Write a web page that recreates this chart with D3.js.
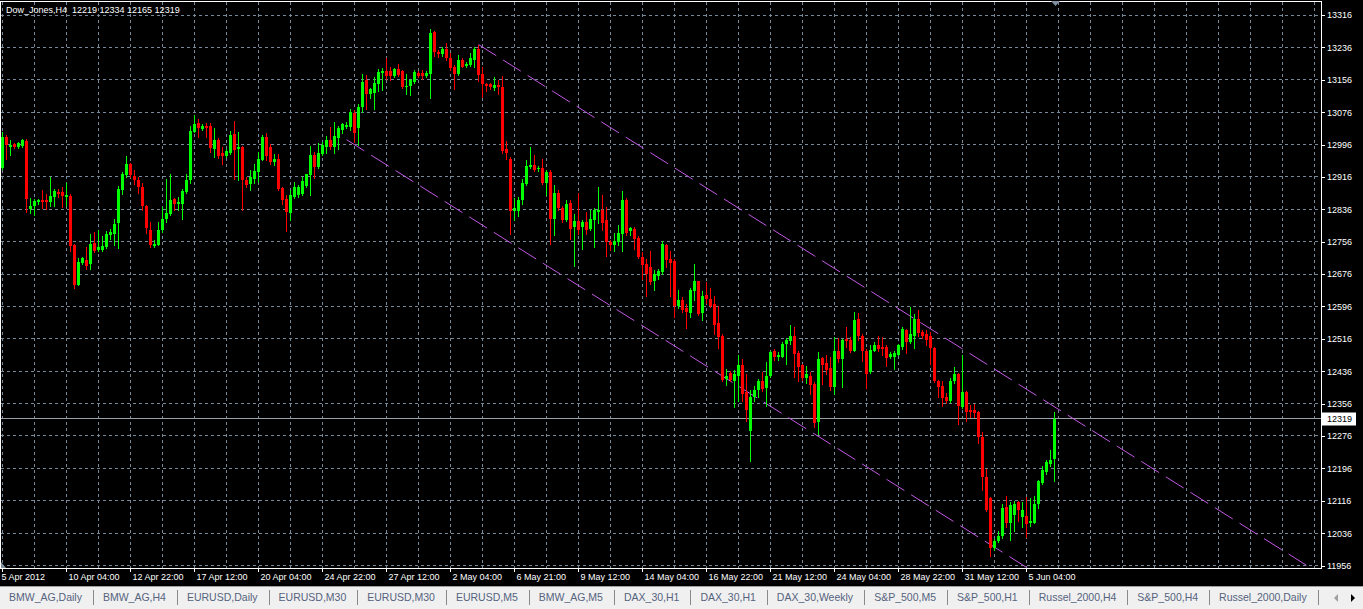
<!DOCTYPE html>
<html><head><meta charset="utf-8">
<script src="https://cdn.jsdelivr.net/npm/d3@7"></script>
<style>
html,body{margin:0;padding:0;background:#000;overflow:hidden}
text{font-family:"Liberation Sans",Arial,sans-serif}
</style></head>
<body>
<script>
// ---- data (Dow_Jones, H4) ----
const symbol = "Dow_Jones";
const timeframe = "H4";
const open = [12937,13014,12991,12997,12990,12992,13004,12836,12844,12853,12858,12858,12853,12866,12878,12878,12866,12868,12747,12650,12704,12711,12702,12753,12736,12736,12744,12772,12776,12801,12883,12920,12947,12918,12908,12890,12843,12784,12745,12749,12784,12811,12825,12861,12848,12848,12879,12908,13027,13048,13034,13042,13041,12986,13008,12975,12968,12974,13021,12986,12990,12908,12898,12912,12928,12959,13015,12989,12953,12960,12889,12861,12827,12866,12871,12873,12893,12920,12971,12941,12972,12990,13008,12990,13013,13033,13040,13040,13074,13037,13088,13155,13120,13124,13145,13172,13178,13178,13165,13182,13178,13137,13140,13151,13173,13172,13165,13170,13275,13225,13219,13233,13209,13188,13170,13206,13190,13192,13206,13233,13170,13145,13145,13135,13143,13137,12986,12961,12832,12832,12858,12898,12941,12945,12935,12938,12900,12928,12813,12876,12840,12809,12851,12792,12807,12792,12805,12788,12809,12829,12835,12809,12755,12749,12755,12776,12858,12782,12788,12766,12718,12702,12693,12659,12670,12681,12747,12714,12708,12598,12612,12592,12579,12635,12659,12579,12625,12615,12601,12555,12522,12417,12431,12413,12425,12452,12384,12289,12372,12390,12413,12395,12423,12485,12472,12472,12502,12510,12524,12480,12452,12420,12425,12405,12310,12469,12456,12444,12396,12485,12467,12516,12514,12487,12565,12524,12485,12433,12487,12500,12495,12495,12470,12472,12477,12497,12538,12508,12524,12565,12532,12527,12522,12494,12413,12400,12372,12362,12411,12429,12347,12384,12339,12339,12334,12274,12175,12123,12000,12017,12029,12101,12062,12081,12112,12076,12079,12060,12062,12109,12159,12186,12207,12219];
const high = [13026,13019,13007,13000,13002,13009,13009,12863,12861,12862,12883,12875,12916,12887,12887,12890,12900,12873,12751,12716,12718,12743,12774,12780,12784,12769,12782,12788,12813,12894,12928,12967,12951,12932,12916,12900,12846,12805,12759,12805,12842,12912,12924,12865,12866,12887,12924,13041,13068,13058,13046,13048,13048,13036,13012,12990,12984,13029,13054,13027,12992,12916,12932,12949,12978,13019,13025,12997,12972,12972,12891,12871,12883,12904,12895,12916,12924,12992,12978,13000,13002,13017,13040,13052,13041,13049,13051,13085,13081,13096,13170,13167,13135,13162,13182,13184,13210,13188,13184,13195,13180,13170,13158,13180,13178,13180,13178,13281,13277,13229,13238,13248,13221,13192,13217,13209,13200,13223,13238,13243,13188,13148,13148,13162,13155,13165,13005,12964,12865,12866,12912,12959,12989,12970,12942,12961,12934,12934,12895,12883,12843,12858,12860,12825,12876,12810,12829,12834,12838,12890,12871,12842,12759,12777,12796,12881,12865,12792,12792,12769,12730,12714,12733,12685,12689,12757,12751,12733,12712,12637,12619,12601,12642,12702,12660,12635,12656,12642,12623,12596,12527,12442,12436,12439,12477,12467,12428,12390,12400,12417,12433,12458,12487,12491,12483,12508,12518,12549,12546,12485,12454,12450,12433,12409,12483,12472,12477,12470,12520,12518,12516,12545,12520,12582,12579,12528,12491,12500,12508,12522,12520,12500,12483,12485,12504,12545,12541,12594,12578,12586,12537,12538,12532,12495,12415,12411,12381,12418,12446,12431,12475,12388,12353,12355,12337,12285,12194,12126,12021,12042,12108,12128,12112,12116,12116,12114,12124,12123,12128,12167,12203,12217,12241,12334];
const low = [12935,12960,12970,12987,12987,12989,12829,12826,12821,12848,12838,12836,12844,12843,12866,12842,12843,12733,12642,12648,12702,12689,12689,12730,12733,12733,12741,12762,12749,12741,12875,12916,12916,12898,12876,12834,12777,12744,12744,12747,12780,12805,12821,12835,12835,12813,12876,12901,13026,13015,13031,13015,12978,12965,12963,12949,12965,12972,12910,12908,12835,12890,12883,12900,12903,12957,12959,12949,12945,12883,12848,12782,12809,12865,12866,12871,12891,12871,12914,12937,12970,12974,12984,12974,12986,13025,13036,13031,13002,12994,13077,13085,13110,13083,13129,13130,13159,13155,13162,13165,13135,13122,13118,13147,13162,13159,13162,13110,13214,13213,13214,13205,13180,13132,13167,13187,13187,13190,13188,13153,13114,13129,13132,13130,13120,12974,12961,12776,12809,12819,12850,12895,12937,12931,12931,12898,12871,12751,12772,12834,12805,12807,12763,12697,12776,12739,12776,12784,12744,12801,12784,12720,12735,12733,12747,12733,12772,12772,12739,12716,12665,12623,12652,12637,12665,12677,12693,12623,12570,12593,12582,12543,12571,12611,12574,12563,12604,12594,12528,12494,12413,12403,12413,12347,12362,12362,12312,12215,12363,12372,12388,12351,12421,12464,12464,12470,12454,12504,12421,12413,12415,12406,12380,12297,12282,12405,12428,12390,12380,12458,12396,12497,12483,12485,12512,12461,12395,12431,12485,12485,12477,12450,12469,12442,12475,12491,12480,12505,12494,12524,12518,12500,12454,12409,12373,12351,12357,12359,12406,12306,12345,12312,12322,12324,12258,12142,12091,11980,11994,12013,12025,12052,12019,12040,12066,12050,12027,12054,12060,12099,12157,12182,12203,12165];
const close = [13014,12994,12994,12989,12999,13007,12861,12843,12856,12860,12853,12853,12869,12881,12875,12869,12871,12745,12650,12706,12715,12697,12751,12733,12743,12745,12776,12780,12799,12885,12924,12947,12920,12908,12890,12844,12790,12747,12751,12786,12811,12828,12858,12848,12853,12881,12909,13029,13046,13036,13042,13037,12988,13007,12968,12968,12980,13019,12982,12989,12908,12895,12916,12931,12961,13015,12967,12953,12960,12885,12860,12829,12871,12891,12890,12906,12923,12970,12941,12975,12994,13007,12990,13017,13036,13046,13044,13077,13025,13088,13151,13120,13132,13148,13176,13178,13165,13165,13182,13167,13137,13141,13155,13176,13165,13165,13173,13271,13225,13219,13231,13209,13184,13170,13206,13188,13196,13209,13231,13167,13145,13140,13137,13143,13137,12980,12974,12832,12838,12860,12901,12942,12945,12932,12937,12900,12928,12813,12876,12838,12809,12848,12788,12807,12784,12805,12786,12811,12835,12835,12802,12755,12747,12757,12777,12858,12778,12790,12763,12718,12699,12675,12656,12675,12683,12751,12710,12703,12598,12613,12588,12582,12637,12659,12578,12621,12615,12598,12551,12520,12415,12425,12415,12428,12452,12380,12340,12373,12390,12413,12392,12423,12483,12472,12475,12504,12514,12524,12479,12446,12420,12429,12403,12307,12467,12452,12439,12396,12485,12467,12512,12510,12487,12563,12524,12485,12428,12489,12500,12491,12491,12469,12479,12480,12500,12541,12508,12528,12565,12530,12522,12514,12494,12411,12398,12370,12362,12411,12428,12349,12384,12334,12334,12332,12273,12174,12093,12000,12017,12029,12099,12062,12106,12108,12093,12093,12058,12066,12109,12164,12192,12211,12217,12319];
const yTickLabels = ["13316","13236","13156","13076","12996","12916","12836","12756","12676","12596","12516","12436","12356","12276","12196","12116","12036","11956"];
const xTickLabels = ["5 Apr 2012","10 Apr 04:00","12 Apr 22:00","17 Apr 12:00","20 Apr 04:00","24 Apr 22:00","27 Apr 12:00","2 May 04:00","6 May 21:00","9 May 12:00","14 May 04:00","16 May 22:00","21 May 12:00","24 May 04:00","28 May 22:00","31 May 12:00","5 Jun 04:00"];
const xTickBars = [0,16,32,48,64,80,96,112,128,144,160,176,192,208,224,240,256];
const channelUpper = [[119,13243],[263,12348]];
const channelLower = [[86,13008],[263,11908]];
const tabs = ["BMW_AG,Daily","BMW_AG,H4","EURUSD,Daily","EURUSD,M30","EURUSD,M30","EURUSD,M5","BMW_AG,M5","DAX_30,H1","DAX_30,H1","DAX_30,Weekly","S&P_500,M5","S&P_500,H1","Russel_2000,H4","S&P_500,H4","Russel_2000,Daily"];

// ---- layout ----
const W = 1363, H = 609;
const plotL = 0.5, plotT = 1.5, plotR = 1321.5, plotB = 568.5;
const n = close.length;
const x = d3.scaleLinear().domain([0, n - 1]).range([2, 2 + 4 * (n - 1)]);
const y = d3.scaleLinear().domain([11956, 13316]).range([565.5, 15]);
const lastBarIndexVisible = x.invert(plotR);

const svg = d3.select("body").append("svg").attr("width", W).attr("height", H)
  .style("display", "block");
svg.append("rect").attr("width", W).attr("height", H).attr("fill", "#000");

svg.append("defs").append("clipPath").attr("id", "plotclip")
  .append("rect").attr("x", 1).attr("y", 2).attr("width", 1320).attr("height", 566);

const grid = svg.append("g").attr("shape-rendering", "crispEdges")
  .attr("stroke", "#778899").attr("stroke-dasharray", "3,3").attr("fill", "none");
const yVals = yTickLabels.map(Number);
grid.selectAll("line.h").data(yVals).join("line").attr("class", "h")
  .attr("x1", 1).attr("x2", 1321)
  .attr("y1", d => Math.floor(y(d)) + 0.5).attr("y2", d => Math.floor(y(d)) + 0.5);
const vIdx = d3.range(0, Math.floor(lastBarIndexVisible) + 1, 8);
grid.selectAll("line.v").data(vIdx).join("line").attr("class", "v")
  .attr("x1", d => x(d) + 0.5).attr("x2", d => x(d) + 0.5)
  .attr("y1", 2).attr("y2", 568);

// bid line
const bid = close[n - 1];
const yb = Math.floor(y(bid)) + 0.5;
svg.append("line").attr("x1", 1).attr("x2", 1321).attr("y1", yb).attr("y2", yb)
  .attr("stroke", "#9aa0a8").attr("shape-rendering", "crispEdges");

// channel lines
function ray(pts) {
  const [a, b] = pts;
  const slope = (b[1] - a[1]) / (b[0] - a[0]);
  const endI = lastBarIndexVisible + 2;
  return [[x(a[0]) + 0.5, y(a[1])], [x(endI) + 0.5, y(a[1] + slope * (endI - a[0]))]];
}
const chG = svg.append("g").attr("clip-path", "url(#plotclip)");
[channelUpper, channelLower].forEach(c => {
  chG.append("path").attr("d", d3.line()(ray(c)))
    .attr("stroke", "#c458e6").attr("stroke-width", 1).attr("fill", "none")
    .attr("stroke-dasharray", "21,8");
});

// candles
const cg = svg.append("g").attr("shape-rendering", "crispEdges").attr("clip-path", "url(#plotclip)");
const bars = d3.range(n).map(i => ({i, o: open[i], h: high[i], l: low[i], c: close[i]}));
const col = d => d.c >= d.o ? "#00ff00" : "#ff0000";
cg.selectAll("line.w").data(bars).join("line").attr("class", "w")
  .attr("x1", d => x(d.i) + 0.5).attr("x2", d => x(d.i) + 0.5)
  .attr("y1", d => Math.round(y(d.h))).attr("y2", d => Math.round(y(d.l)) + 1)
  .attr("stroke", col);
cg.selectAll("rect.b").data(bars).join("rect").attr("class", "b")
  .attr("x", d => x(d.i) - 1).attr("width", 3)
  .attr("y", d => Math.round(y(Math.max(d.o, d.c))))
  .attr("height", d => Math.max(1, Math.round(y(Math.min(d.o, d.c))) - Math.round(y(Math.max(d.o, d.c)))))
  .attr("fill", col);

// border
svg.append("rect").attr("x", plotL).attr("y", plotT).attr("width", plotR - plotL).attr("height", plotB - plotT)
  .attr("fill", "none").attr("stroke", "#fff").attr("shape-rendering", "crispEdges");

// axes
const fs = "9px";
const yAxis = d3.axisRight(y).tickValues(yVals).tickSize(4).tickPadding(2).tickFormat((d, i) => yTickLabels[i]);
const ya = svg.append("g").attr("transform", "translate(1321,0)").call(yAxis);
ya.select(".domain").remove();
ya.selectAll("line").attr("stroke", "#fff").attr("shape-rendering", "crispEdges");
ya.selectAll("text").attr("fill", "#fff").style("font-size", fs).attr("font-family", null);

const xAxis = d3.axisBottom(x).tickValues(xTickBars).tickSize(4).tickFormat((d, i) => xTickLabels[i]);
const xa = svg.append("g").attr("transform", "translate(0,568)").call(xAxis);
xa.select(".domain").remove();
xa.selectAll("line").attr("stroke", "#fff").attr("shape-rendering", "crispEdges");
xa.selectAll("text").attr("fill", "#fff").style("font-size", fs).attr("font-family", null)
  .attr("text-anchor", "start").attr("x", (d, i) => i === 0 ? -1 : 2).attr("y", 6).attr("dy", "0.71em");

// price label
svg.append("rect").attr("x", 1322).attr("y", yb - 6).attr("width", 34).attr("height", 13).attr("fill", "#fff");
svg.append("text").attr("x", 1327).attr("y", yb + 3.5).text(String(bid)).attr("fill", "#000").style("font-size", fs);

// title
svg.append("text").attr("x", 6).attr("y", 12.5).style("font-size", fs)
  .attr("xml:space", "preserve").style("white-space", "pre")
  .attr("fill", "#fff")
  .text(`${symbol},${timeframe}\u00a0\u00a0${open[n-1]} ${high[n-1]} ${low[n-1]} ${close[n-1]}`);

// markers
svg.append("path").attr("d", "M1051,1 L1060,1 L1055.5,6 Z").attr("fill", "#8090a0");
svg.append("path").attr("d", "M1,562 L1,568 L6,568 Z").attr("fill", "#8090a0");

// tab bar
const tb = svg.append("g");
tb.append("rect").attr("x", 0).attr("y", 586).attr("width", W).attr("height", 23).attr("fill", "#f0f0f0");
tb.append("line").attr("x1", 0).attr("x2", W).attr("y1", 586.5).attr("y2", 586.5).attr("stroke", "#a0a0a0");
let tx = 9;
tabs.forEach(t => {
  const el = tb.append("text").attr("x", tx).attr("y", 601).text(t)
    .attr("fill", "#55637e").style("font-size", "10.5px");
  const w = el.node().getComputedTextLength();
  tx += w + 11;
  tb.append("line").attr("x1", Math.round(tx) + 0.5).attr("x2", Math.round(tx) + 0.5)
    .attr("y1", 590).attr("y2", 605).attr("stroke", "#8a8a8a");
  tx += 10;
});
tb.append("path").attr("d", "M1338,594 L1338,602 L1334,598 Z").attr("fill", "#a0a0a0");
tb.append("path").attr("d", "M1351,594 L1351,602 L1355,598 Z").attr("fill", "#000");
</script>
</body></html>
